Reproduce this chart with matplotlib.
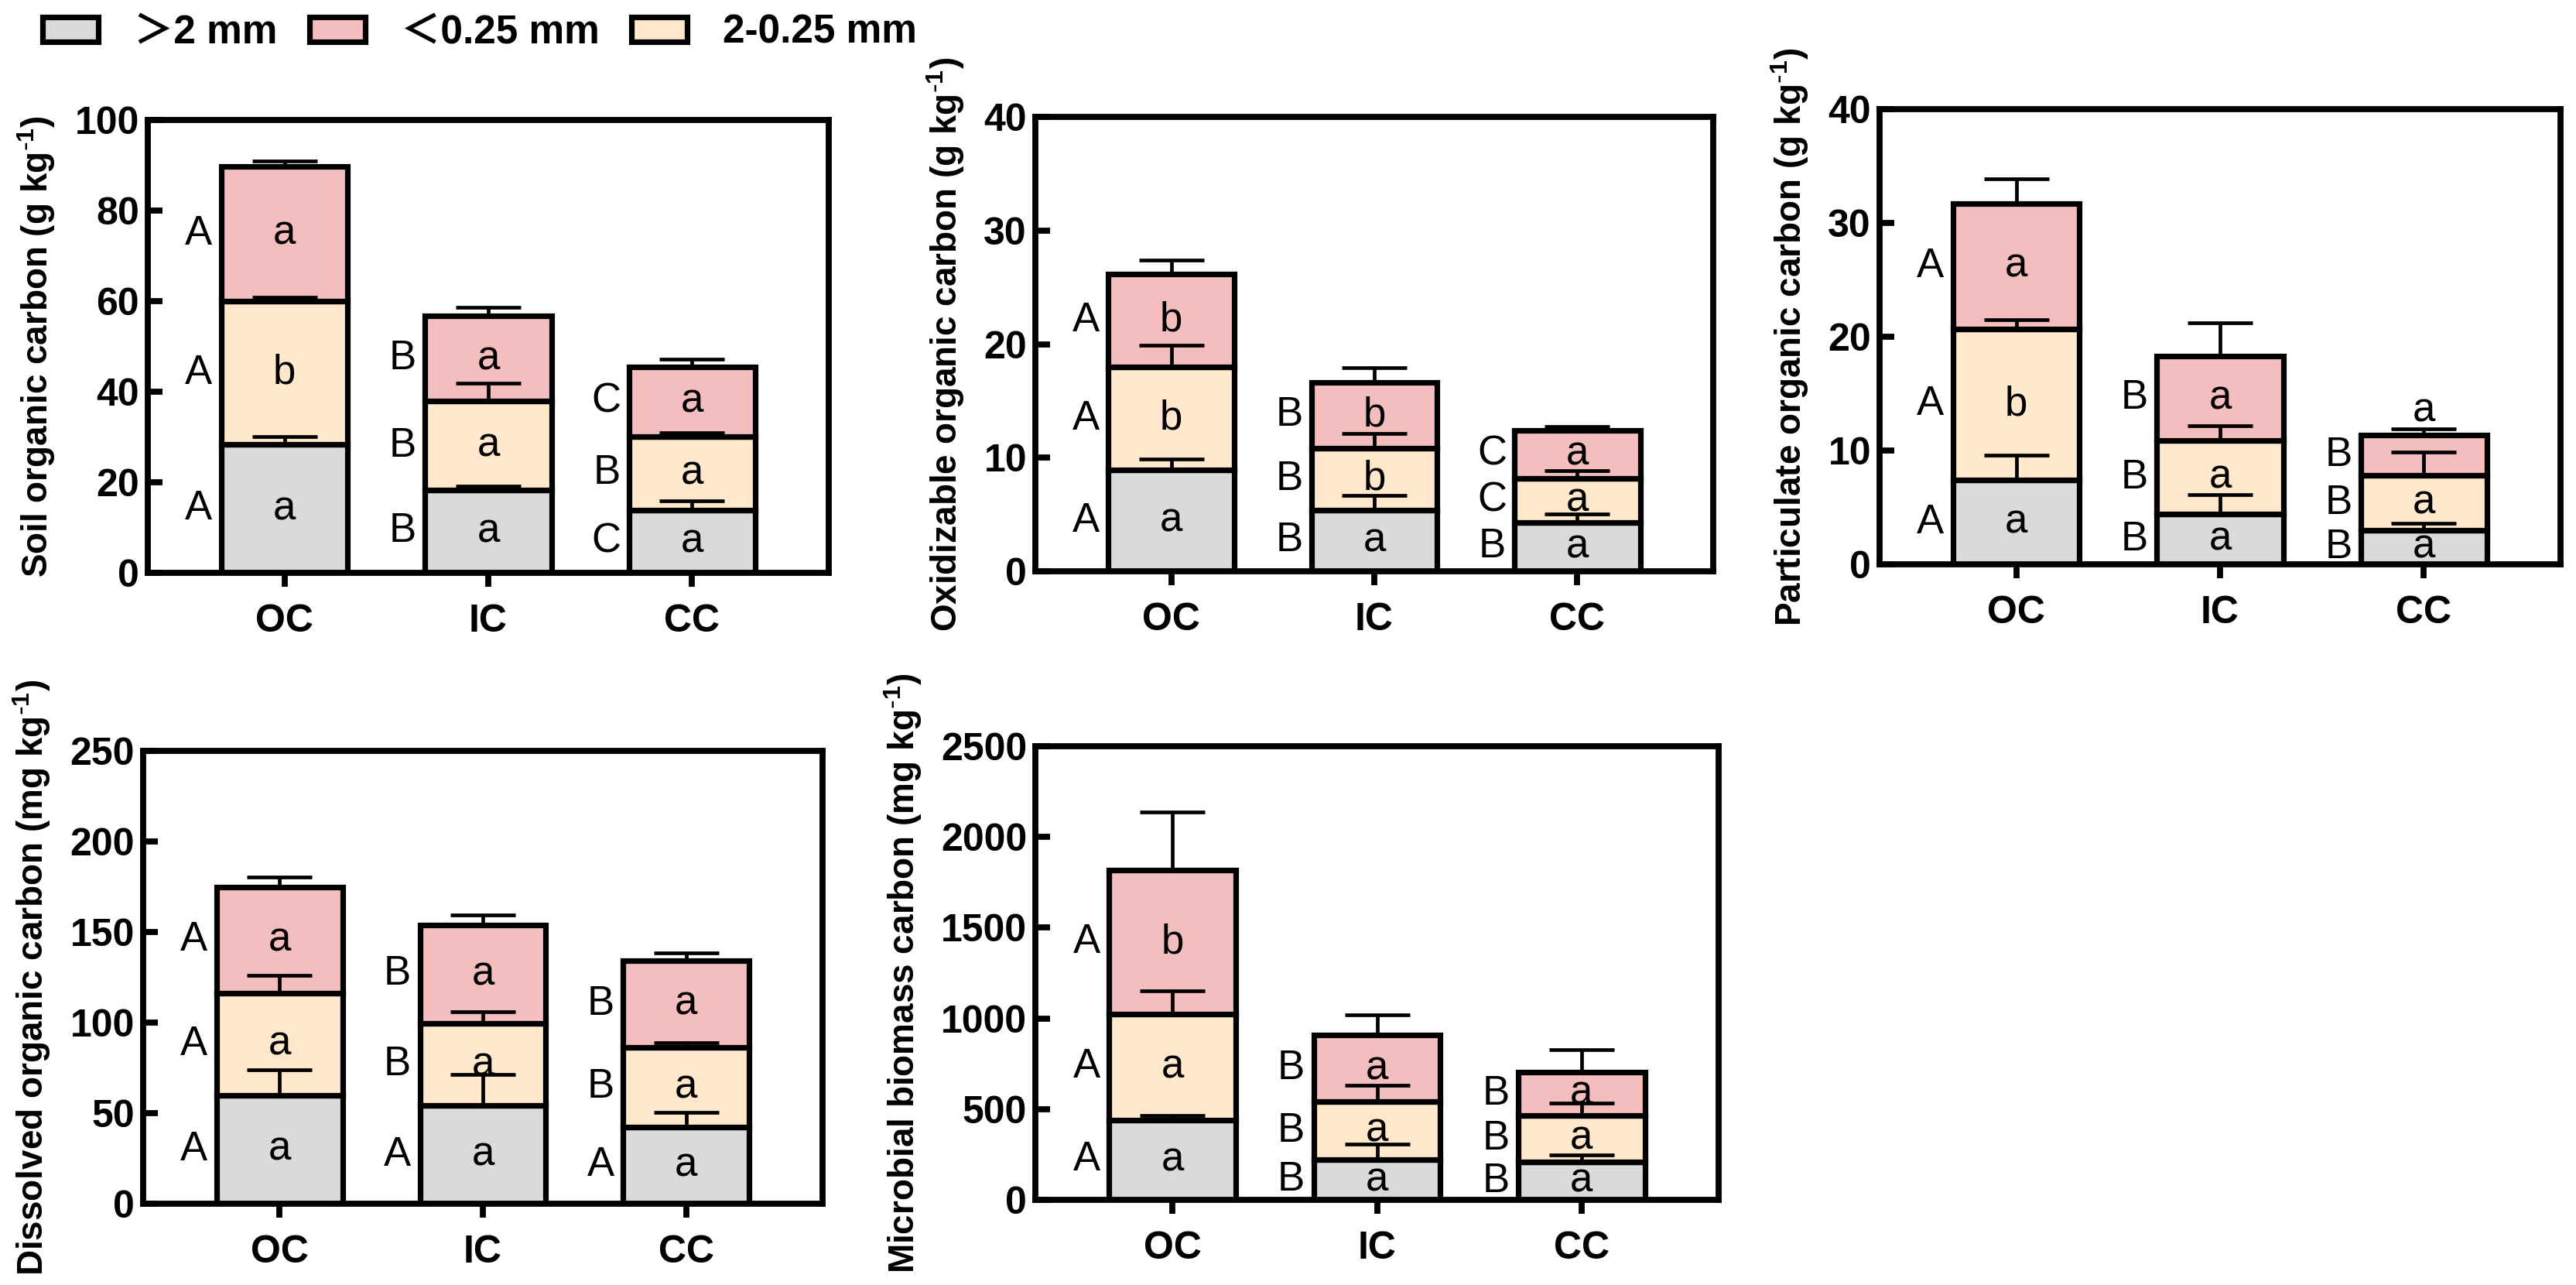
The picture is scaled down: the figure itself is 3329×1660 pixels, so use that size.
"""
Stacked bars of soil carbon fractions by aggregate size (OC, IC, CC).
"""

import numpy as np
import matplotlib.pyplot as plt

plt.rcParams.update({
    "font.family": ["Liberation Sans", "Noto Sans CJK SC", "DejaVu Sans"],
    "mathtext.default": "regular",
    "axes.linewidth": 2.8,
})

groups = ["OC", "IC", "CC"]
size_labels = ["＞2 mm", "＜0.25 mm", "2-0.25 mm"]
color_large = "#DADADA"
color_small = "#F5BEBE"
color_mid = "#FFE8CC"

# Soil organic carbon (g/kg): >2 mm, 2-0.25 mm, <0.25 mm
soc_large = [28.3, 18.3, 13.9]
soc_large_err = [1.8, 0.9, 2.0]
soc_mid = [31.7, 19.6, 16.2]
soc_mid_err = [0.9, 3.9, 0.9]
soc_small = [29.8, 18.9, 15.4]
soc_small_err = [1.2, 1.8, 1.6]

# Oxidizable organic carbon (g/kg)
eoc_large = [8.9, 5.4, 4.3]
eoc_large_err = [1.0, 1.3, 0.75]
eoc_mid = [9.1, 5.45, 3.9]
eoc_mid_err = [1.9, 1.3, 0.67]
eoc_small = [8.2, 5.8, 4.2]
eoc_small_err = [1.2, 1.3, 0.33]

# Particulate organic carbon (g/kg)
poc_large = [7.4, 4.4, 3.0]
poc_large_err = [2.2, 1.75, 0.6]
poc_mid = [13.3, 6.5, 4.8]
poc_mid_err = [0.8, 1.3, 2.05]
poc_small = [11.0, 7.4, 3.55]
poc_small_err = [2.2, 2.9, 0.55]

# Dissolved organic carbon (mg/kg)
doc_large = [60.0, 54.1, 42.4]
doc_large_err = [13.9, 17.2, 7.9]
doc_mid = [56.3, 45.6, 44.1]
doc_mid_err = [9.9, 6.4, 2.4]
doc_small = [58.7, 54.1, 47.9]
doc_small_err = [5.5, 5.7, 3.9]

# Microbial biomass carbon (mg/kg)
mbc_large = [440, 220, 209]
mbc_large_err = [26, 88, 40]
mbc_mid = [584, 320, 258]
mbc_mid_err = [128, 92, 66]
mbc_small = [793, 370, 238]
mbc_small_err = [320, 108, 121]

# significance letters, bottom -> top segment; capitals between groups, lower case between sizes
soc_caps = [["A", "B", "C"], ["A", "B", "B"], ["A", "B", "C"]]
soc_lows = [["a", "a", "a"], ["b", "a", "a"], ["a", "a", "a"]]
eoc_caps = [["A", "B", "B"], ["A", "B", "C"], ["A", "B", "C"]]
eoc_lows = [["a", "a", "a"], ["b", "b", "a"], ["b", "b", "a"]]
poc_caps = [["A", "B", "B"], ["A", "B", "B"], ["A", "B", "B"]]
poc_lows = [["a", "a", "a"], ["b", "a", "a"], ["a", "a", "a"]]
doc_caps = [["A", "A", "A"], ["A", "B", "B"], ["A", "B", "B"]]
doc_lows = [["a", "a", "a"], ["a", "a", "a"], ["a", "a", "a"]]
mbc_caps = [["A", "B", "B"], ["A", "B", "B"], ["A", "B", "B"]]
mbc_lows = [["a", "a", "a"], ["a", "a", "a"], ["b", "a", "a"]]

W, H = 3329, 1660
DPI = 200
fig = plt.figure(figsize=(W / DPI, H / DPI), dpi=DPI)


def px_axes(left, top, right, bottom):
    return fig.add_axes([left / W, 1 - bottom / H, (right - left) / W, (bottom - top) / H])


def draw_panel(ax, segs, caps, lows, ylabel, ymax, ystep, label_above=()):
    x = np.arange(len(groups))
    width = 0.62
    bottom = np.zeros(len(groups))
    seg_colors = [color_large, color_mid, color_small]
    handles = []
    for k, ((vals, errs), col) in enumerate(zip(segs, seg_colors)):
        vals = np.asarray(vals, dtype=float)
        errs = np.asarray(errs, dtype=float)
        b = ax.bar(x, vals, width, bottom=bottom, color=col, edgecolor="black",
                   linewidth=2.6, zorder=2)
        handles.append(b)
        top = bottom + vals
        ax.errorbar(x, top, yerr=[np.zeros_like(errs), errs], fmt="none",
                    ecolor="black", elinewidth=1.7, capsize=15, capthick=1.7, zorder=3)
        for i in range(len(groups)):
            mid = bottom[i] + vals[i] / 2
            ax.text(x[i] - 0.42, mid, caps[k][i], ha="center", va="center",
                    fontsize=19, zorder=4)
            ly = mid
            if k == 2 and i in label_above:
                ly = top[i] + errs[i] + ymax * 0.04
            ax.text(x[i], ly, lows[k][i], ha="center", va="center",
                    fontsize=19, zorder=4)
        bottom = top

    ax.set_xlim(-0.67, 2.67)
    ax.set_ylim(0, ymax)
    ax.set_yticks(np.arange(0, ymax + ystep / 2, ystep))
    ax.set_xticks(x)
    ax.set_xticklabels(groups)
    ax.tick_params(axis="y", direction="in", length=7, width=2.8, labelsize=18, pad=4)
    ax.tick_params(axis="x", direction="out", length=6.5, width=2.8, labelsize=18, pad=8)
    for lab in ax.get_xticklabels() + ax.get_yticklabels():
        lab.set_fontweight("bold")
    ax.set_ylabel(ylabel, fontsize=16.5, fontweight="bold", labelpad=8)
    return handles


unit_g = r"(g kg$^{\text{-}1}$)"
unit_mg = r"(mg kg$^{\text{-}1}$)"

ax1 = px_axes(191, 155, 1071, 740)
handles = draw_panel(ax1, [(soc_large, soc_large_err), (soc_mid, soc_mid_err), (soc_small, soc_small_err)],
                     soc_caps, soc_lows, "Soil organic carbon " + unit_g, 100, 20)

ax2 = px_axes(1338, 151, 2214, 738)
draw_panel(ax2, [(eoc_large, eoc_large_err), (eoc_mid, eoc_mid_err), (eoc_small, eoc_small_err)],
           eoc_caps, eoc_lows, "Oxidizable organic carbon " + unit_g, 40, 10)

ax3 = px_axes(2429, 141, 3309, 729)
draw_panel(ax3, [(poc_large, poc_large_err), (poc_mid, poc_mid_err), (poc_small, poc_small_err)],
           poc_caps, poc_lows, "Particulate organic carbon " + unit_g, 40, 10, label_above=(2,))

ax4 = px_axes(185, 970, 1063, 1555)
draw_panel(ax4, [(doc_large, doc_large_err), (doc_mid, doc_mid_err), (doc_small, doc_small_err)],
           doc_caps, doc_lows, "Dissolved organic carbon " + unit_mg, 250, 50)

ax5 = px_axes(1338, 964, 2221, 1550)
draw_panel(ax5, [(mbc_large, mbc_large_err), (mbc_mid, mbc_mid_err), (mbc_small, mbc_small_err)],
           mbc_caps, mbc_lows, "Microbial biomass carbon " + unit_mg, 2500, 500)

# legend order: >2 mm, <0.25 mm, 2-0.25 mm
leg = fig.legend([handles[0], handles[2], handles[1]], size_labels, loc="upper left",
                 bbox_to_anchor=(55 / W, 1 - 18 / H), ncol=3, frameon=False,
                 prop={"weight": "bold", "size": 18.5},
                 handlelength=1.4, handleheight=0.6, handletextpad=0.9,
                 columnspacing=0.8, borderpad=0, borderaxespad=0)

fig.savefig("out.png", dpi=DPI)
